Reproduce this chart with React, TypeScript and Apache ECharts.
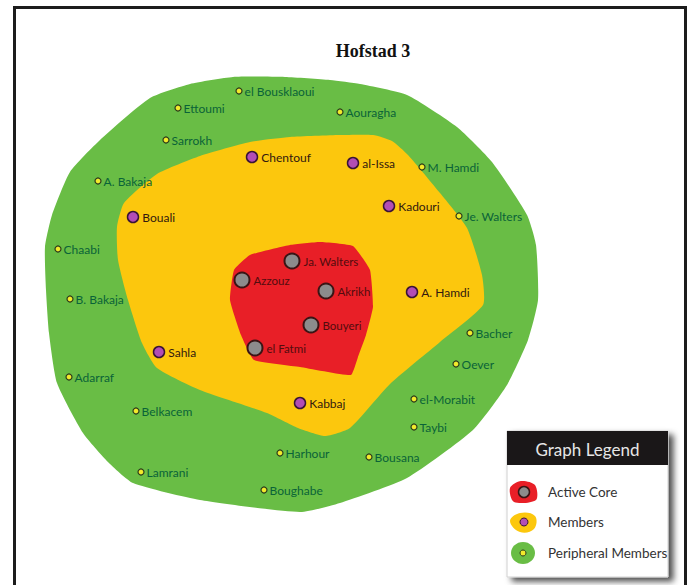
import React, { useEffect, useRef } from "react";
import * as echarts from "echarts";

const titleText = "Hofstad 3";

// [name, x, y] (pixel-like data units)
const coreNodes: [string, number, number][] = [
  ["Ja. Walters", 292, 261],
  ["Azzouz", 242, 280],
  ["Akrikh", 326, 291],
  ["Bouyeri", 311, 325],
  ["el Fatmi", 255, 348],
];

const memberNodes: [string, number, number][] = [
  ["Chentouf", 252, 157],
  ["al-Issa", 353, 163],
  ["Kadouri", 389, 206],
  ["Bouali", 133, 217],
  ["A. Hamdi", 412, 292],
  ["Sahla", 159, 352],
  ["Kabbaj", 300, 403],
];

const peripheralNodes: [string, number, number][] = [
  ["el Bousklaoui", 239, 91],
  ["Ettoumi", 178, 108],
  ["Aouragha", 340, 112],
  ["Sarrokh", 166, 140],
  ["M. Hamdi", 422, 167],
  ["A. Bakaja", 98, 181],
  ["Je. Walters", 459, 216],
  ["Chaabi", 58, 249],
  ["B. Bakaja", 70, 299],
  ["Bacher", 470, 333],
  ["Adarraf", 69, 377],
  ["Oever", 456, 364],
  ["el-Morabit", 414, 399],
  ["Belkacem", 136, 411],
  ["Taybi", 414, 427],
  ["Harhour", 280, 453],
  ["Bousana", 369, 457],
  ["Lamrani", 141, 472],
  ["Boughabe", 264, 490],
];

// outlines of the three zones
const peripheralHull: [number, number][] = [
  [233, 77], [285, 77], [330, 80], [360, 84], [407, 95], [457, 127], [492, 162],
  [527, 215], [536, 245], [538, 300], [528, 340], [507, 385], [473, 430],
  [407, 478], [340, 503], [300, 512], [200, 500], [133, 483], [108, 462],
  [83, 433], [57, 383], [49, 333], [46, 290], [45, 247], [52, 215], [70, 172],
  [100, 140], [150, 98], [190, 84],
];

const memberHull: [number, number][] = [
  [290, 137], [340, 135], [373, 135], [392, 141], [408, 155], [440, 193],
  [467, 228], [482, 275], [483, 305], [440, 342], [390, 384], [350, 428],
  [325, 436], [298, 428], [267, 413], [200, 390], [157, 368], [142, 343],
  [128, 300], [118, 260], [117, 227], [124, 203], [157, 174], [200, 156], [250, 142],
];

const coreHull: [number, number][] = [
  [234, 270], [250, 255], [290, 245], [320, 242], [353, 246], [370, 270],
  [373, 307], [366, 335], [358, 357], [351, 375], [300, 367], [254, 360],
  [241, 335], [230, 300],
];

const zoneColors = { peripheral: "#69bd45", member: "#fcc70d", core: "#e81f27" };

const legendItems = ["Active Core", "Members", "Peripheral Members"];

const FONT = "Lato, 'Open Sans', sans-serif";

export default function App() {
  const ref = useRef<HTMLDivElement>(null);

  useEffect(() => {
    document.body.style.margin = "0";
    if (!ref.current) return;
    const chart = echarts.init(ref.current, undefined, { renderer: "svg" });

    const zoneSeries = (hull: [number, number][], color: string, z: number, smooth: number) => ({
      type: "custom",
      silent: true,
      z,
      data: [[0, 0]],
      renderItem: (_p: any, api: any) => ({
        type: "polygon",
        shape: { points: hull.map((p) => api.coord(p)), smooth },
        style: { fill: color },
      }),
    });

    const nodeSeries = (
      nodes: [string, number, number][],
      size: number,
      fill: string,
      border: string,
      bw: number,
      labelColor: string,
      fontSize: number,
      dist: number
    ) => ({
      type: "scatter",
      z: 10,
      silent: true,
      symbol: "circle",
      symbolSize: size,
      data: nodes.map((n) => ({ name: n[0], value: [n[1], n[2]] })),
      itemStyle: { color: fill, borderColor: border, borderWidth: bw, opacity: 1 },
      label: {
        show: true,
        position: "right",
        distance: dist,
        formatter: (p: any) => p.name,
        color: labelColor,
        fontSize,
        fontFamily: FONT,
      },
    });

    const lx = 507, ly = 431, lw = 161, lh = 146;
    const iconX = 523;
    const rowY = [492, 522, 553];

    chart.setOption({
      animation: false,
      grid: { left: 0, right: 0, top: 0, bottom: 0 },
      xAxis: { type: "value", min: 0, max: 691, show: false },
      yAxis: { type: "value", min: 0, max: 585, inverse: true, show: false },
      series: [
        zoneSeries(peripheralHull, zoneColors.peripheral, 1, 0.18),
        zoneSeries(memberHull, zoneColors.member, 2, 0.18),
        zoneSeries(coreHull, zoneColors.core, 3, 0.12),
        nodeSeries(peripheralNodes, 6, "#f2ea2c", "#2d3a1a", 1.2, "#0a6338", 12, 2),
        nodeSeries(memberNodes, 11, "#b24db5", "#3a1436", 1.5, "#33190f", 12, 3),
        nodeSeries(coreNodes, 15, "#8c8c8c", "#3a1515", 2, "#520c0e", 11.5, 3),
      ],
      graphic: [
        {
          type: "polyline",
          silent: true,
          shape: { points: [[14.5, 585], [14.5, 7.5], [685.5, 7.5], [685.5, 585]] },
          style: { stroke: "#1c1c1c", lineWidth: 3, fill: "none" },
        },
        {
          type: "text",
          x: 373,
          y: 51,
          style: {
            text: titleText,
            textAlign: "center",
            textVerticalAlign: "middle",
            fontFamily: "'Liberation Serif', 'Times New Roman', serif",
            fontWeight: "bold",
            fontSize: 18,
            fill: "#111",
          },
        },
        {
          type: "group",
          z: 100,
          children: [
            {
              type: "rect",
              shape: { x: lx, y: ly, width: lw, height: lh },
              style: {
                fill: "#fff",
                stroke: "#d0d0d0",
                lineWidth: 1,
                shadowBlur: 6,
                shadowOffsetX: 5,
                shadowOffsetY: 4,
                shadowColor: "rgba(0,0,0,0.7)",
              },
            },
            {
              type: "rect",
              shape: { x: lx, y: ly, width: lw, height: 34 },
              style: { fill: "#1a1718" },
            },
            {
              type: "text",
              x: lx + lw / 2,
              y: ly + 18,
              style: {
                text: "Graph Legend",
                textAlign: "center",
                textVerticalAlign: "middle",
                fontFamily: FONT,
                fontSize: 17,
                fill: "#e6e6e6",
              },
            },
            {
              type: "polygon",
              shape: {
                points: [[iconX - 13, rowY[0] - 4], [iconX - 2, rowY[0] - 11], [iconX + 12, rowY[0] - 7], [iconX + 13, rowY[0] + 8], [iconX - 9, rowY[0] + 10]],
                smooth: 0.3,
              },
              style: { fill: zoneColors.core },
            },
            { type: "circle", shape: { cx: iconX + 1, cy: rowY[0], r: 5.5 }, style: { fill: "#8c8c8c", stroke: "#3a1515", lineWidth: 1.5 } },
            {
              type: "polygon",
              shape: {
                points: [[iconX - 13, rowY[1] - 1], [iconX - 3, rowY[1] - 9], [iconX + 12, rowY[1] - 6], [iconX + 11, rowY[1] + 7], [iconX - 3, rowY[1] + 10]],
                smooth: 0.4,
              },
              style: { fill: zoneColors.member },
            },
            { type: "circle", shape: { cx: iconX + 1, cy: rowY[1], r: 4 }, style: { fill: "#b24db5", stroke: "#3a1436", lineWidth: 1 } },
            { type: "ellipse", shape: { cx: iconX, cy: rowY[2], rx: 12, ry: 11 }, style: { fill: zoneColors.peripheral } },
            { type: "circle", shape: { cx: iconX, cy: rowY[2], r: 3 }, style: { fill: "#f2ea2c", stroke: "#2d3a1a", lineWidth: 1 } },
            ...legendItems.map((t, i) => ({
              type: "text",
              x: 548,
              y: rowY[i],
              style: {
                text: t,
                textVerticalAlign: "middle",
                fontFamily: FONT,
                fontSize: 13.5,
                fill: "#333",
              },
            })),
          ],
        },
      ],
    });

    return () => chart.dispose();
  }, []);

  return <div ref={ref} style={{ width: 691, height: 585 }} />;
}
